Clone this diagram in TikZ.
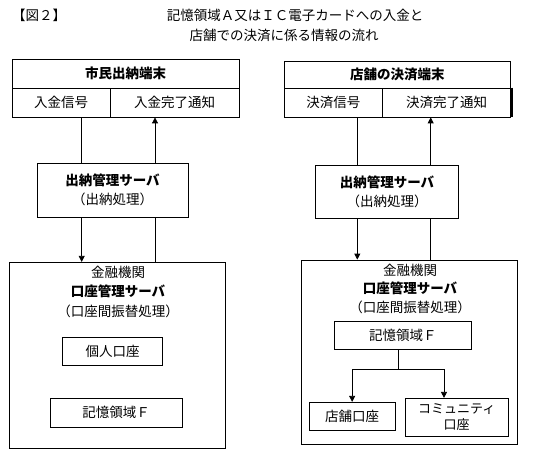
\documentclass[tikz,border=0pt]{standalone}
\usepackage{fontspec}
\setmainfont{Noto Sans CJK JP}
\usetikzlibrary{arrows.meta}
\newcommand\bx[7][]{\node[box,#1,minimum width={(#5-#3)*1pt},minimum height={(#6-#4)*1pt}] (#2) at ({(#3+#5)/2},{(#4+#6)/2}) {#7};}
\tikzset{
  box/.style={draw,line width=0.8pt,inner sep=0pt,align=center,fill=white},
  lbl/.style={inner sep=0pt,align=center},
  arr/.style={line width=0.8pt,-{Triangle[width=6pt,length=6pt]}},
  ln/.style={line width=0.8pt},
}
\begin{document}
\begin{tikzpicture}[x=1pt,y=-1pt,every node/.style={font=\fontsize{13.5}{19}\selectfont}]
\useasboundingbox (0,0) rectangle (535,449);
% title
\node[lbl,anchor=west] (fig) at (12,15) {【図２】};
\node[lbl] (t1) at (295,15) {記憶領域Ａ又はＩＣ電子カードへの入金と};
\node[lbl] (t2) at (284,35) {店舗での決済に係る情報の流れ};
% left top terminal
\bx{tAh}{12}{59}{239}{88}{\bfseries 市民出納端末}
\bx{tAl}{12}{88}{110}{117}{入金信号}
\bx{tAr}{110}{88}{239}{117}{入金完了通知}
% right top terminal
\bx{tBh}{284}{61}{510.7}{88}{\bfseries 店舗の決済端末}
\bx{tBl}{284}{88}{382.7}{117}{決済信号}
\bx{tBr}{382.7}{88}{510.7}{117}{決済完了通知}
\draw[line width=1.8pt] ([xshift=0.5pt]tBr.north east) -- ([xshift=0.5pt]tBr.south east);
% servers
\bx{sA}{37}{163}{188}{217}{{\bfseries 出納管理サーバ}\\（出納処理）}
\bx{sB}{315.7}{165}{458.3}{218.3}{{\bfseries 出納管理サーバ}\\（出納処理）}
% banks
\bx{bA}{9.3}{262.3}{225.7}{448.3}{}
\node[lbl] (bA1) at (118,272.7) {金融機関};
\node[lbl] (bA2) at (118,291.7) {\bfseries 口座管理サーバ};
\node[lbl] (bA3) at (118,311) {（口座間振替処理）};
\bx{pA}{62.3}{337.3}{162.7}{365.7}{個人口座}
\bx{mA}{50}{398.3}{182.3}{427.3}{記憶領域Ｆ}
\bx{bB}{301.7}{260}{517.7}{444.3}{}
\node[lbl] (bB1) at (410,270.7) {金融機関};
\node[lbl] (bB2) at (410,288.3) {\bfseries 口座管理サーバ};
\node[lbl] (bB3) at (410,307.3) {（口座間振替処理）};
\bx{mB}{334}{321.7}{471.7}{349.3}{記憶領域Ｆ}
\bx{shop}{309.3}{402.3}{395}{430}{店舗口座}
\bx[font=\fontsize{13}{16}\selectfont]{comm}{405}{398.3}{508.3}{436}{コミュニティ\\口座}
% connector columns
\coordinate (xa1) at (81.7,0);
\coordinate (xa2) at (155,0);
\coordinate (xb1) at (357.3,0);
\coordinate (xb2) at (430.7,0);
\coordinate (jB) at (398.3,369);
\coordinate (xc) at (444,0);
% left flow
\draw[ln] (tAl.south -| xa1) -- (sA.north -| xa1);
\draw[arr] (sA.south -| xa1) -- (bA.north -| xa1);
\draw[arr] (sA.north -| xa2) -- (tAr.south -| xa2);
\draw[ln] (bA.north -| xa2) -- (sA.south -| xa2);
% right flow
\draw[ln] (tBl.south -| xb1) -- (sB.north -| xb1);
\draw[arr] (sB.south -| xb1) -- (bB.north -| xb1);
\draw[arr] (sB.north -| xb2) -- (tBr.south -| xb2);
\draw[ln] (bB.north -| xb2) -- (sB.south -| xb2);
% tree
\draw[ln] (mB.south -| jB) -- (jB);
\draw[arr] (jB) -| (shop.north);
\draw[arr] (jB) -| (comm.north -| xc);
\end{tikzpicture}
\end{document}
